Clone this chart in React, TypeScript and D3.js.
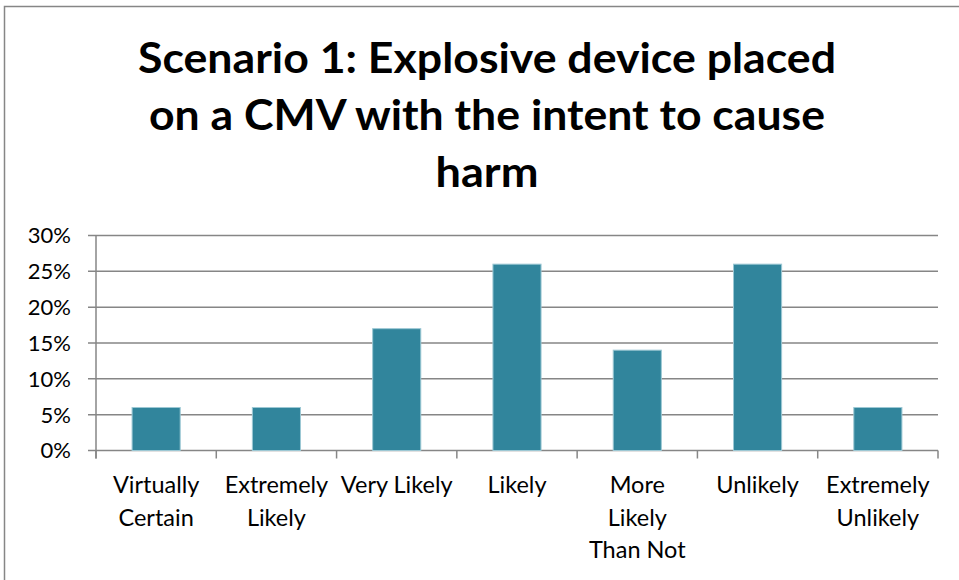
import React from "react";
import * as d3 from "d3";

const categories: string[] = [
  "Virtually\nCertain",
  "Extremely\nLikely",
  "Very Likely",
  "Likely",
  "More\nLikely\nThan Not",
  "Unlikely",
  "Extremely\nUnlikely",
];
const values: number[] = [0.06, 0.06, 0.17, 0.26, 0.14, 0.26, 0.06];
const yTicks: number[] = [0, 0.05, 0.1, 0.15, 0.2, 0.25, 0.3];
const titleLines: string[] = [
  "Scenario 1: Explosive device placed",
  "on a CMV with the intent to cause",
  "harm",
];

const W = 959;
const H = 580;
const plot = { left: 96, right: 938, top: 235.5, bottom: 450.5 };
const FONT = "Lato, 'Open Sans', sans-serif";

export default function App() {
  const x = d3
    .scaleBand<number>()
    .domain(d3.range(categories.length))
    .range([plot.left, plot.right])
    .paddingInner(0.6)
    .paddingOuter(0.3);
  const step = (plot.right - plot.left) / categories.length;
  const y = d3.scaleLinear().domain([0, 0.3]).range([plot.bottom, plot.top]);
  const fmt = d3.format(".0%");
  const grid = "#868686";

  return (
    <svg
      width={W}
      height={H}
      style={{ position: "absolute", left: 0, top: 0, background: "#fff" }}
    >
      <rect x={0} y={0} width={W} height={H} fill="#fff" />
      <rect x={4.5} y={6.5} width={W + 20} height={H + 20} fill="none" stroke={grid} strokeWidth={1.5} />
      {titleLines.map((t, i) => {
        const widths = [698, 676, 103];
        return (
          <text
            key={i}
            x={487}
            y={73 + i * 57}
            textAnchor="middle"
            fontFamily={FONT}
            fontWeight="bold"
            fontSize={42}
            fill="#000"
            textLength={widths[i]}
            lengthAdjust="spacingAndGlyphs"
          >
            {t}
          </text>
        );
      })}
      {yTicks.map((t) => (
        <g key={t}>
          <line x1={88} x2={plot.right} y1={y(t)} y2={y(t)} stroke={grid} strokeWidth={1.5} />
          <text
            x={71}
            y={y(t)}
            dy="0.36em"
            textAnchor="end"
            fontFamily={FONT}
            fontSize={22}
            fill="#000"
          >
            {fmt(t)}
          </text>
        </g>
      ))}
      <line x1={plot.left} x2={plot.left} y1={plot.top} y2={plot.bottom + 8} stroke={grid} strokeWidth={1.5} />
      {d3.range(categories.length + 1).map((i) => (
        <line
          key={i}
          x1={plot.left + i * step}
          x2={plot.left + i * step}
          y1={plot.bottom}
          y2={plot.bottom + 8}
          stroke={grid}
          strokeWidth={1.5}
        />
      ))}
      {values.map((v, i) => (
        <rect
          key={i}
          x={x(i)}
          y={y(v)}
          width={x.bandwidth()}
          height={y(0) - y(v)}
          fill="#31859C"
          stroke="#9cc8d4"
          strokeWidth={1}
        />
      ))}
      {categories.map((c, i) => (
        <text
          key={i}
          x={(x(i) as number) + x.bandwidth() / 2}
          y={493}
          textAnchor="middle"
          fontFamily={FONT}
          fontSize={23.5}
          fill="#000"
        >
          {c.split("\n").map((l, j) => (
            <tspan key={j} x={(x(i) as number) + x.bandwidth() / 2} dy={j === 0 ? 0 : 32.5}>
              {l}
            </tspan>
          ))}
        </text>
      ))}
    </svg>
  );
}
